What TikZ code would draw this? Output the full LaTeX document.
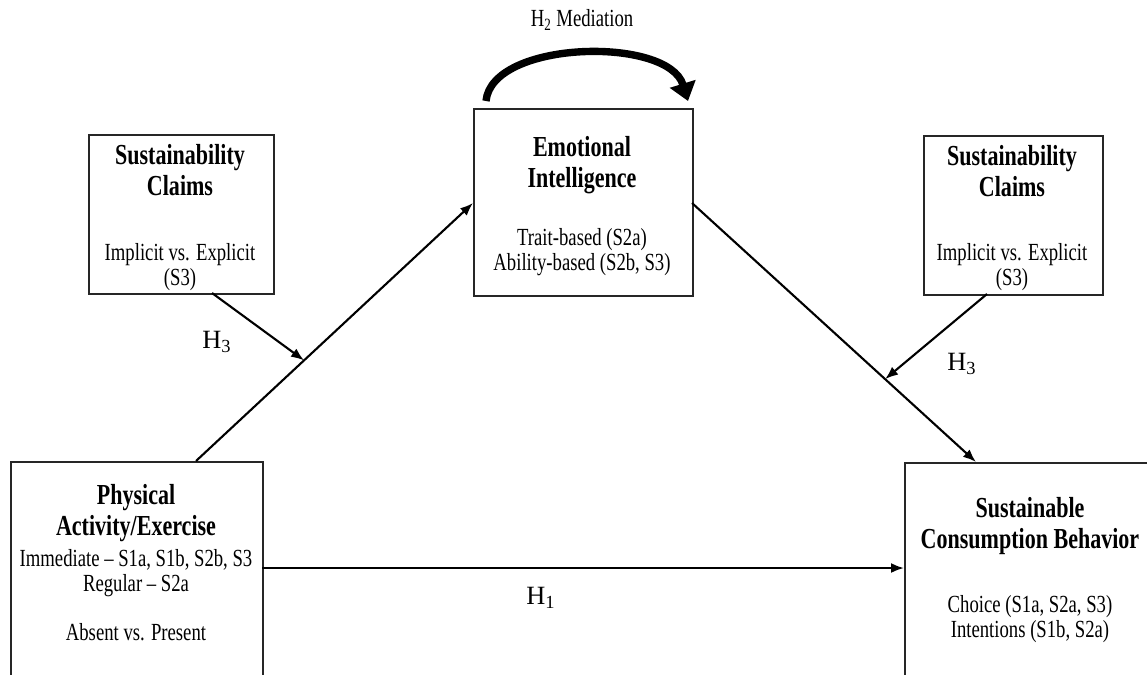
\documentclass[tikz,border=0pt]{standalone}
\usepackage{fontspec}
\setmainfont{Liberation Serif}[FakeStretch=0.76]
\newfontfamily\hfont{Liberation Serif}
\usetikzlibrary{arrows.meta,calc}

\tikzset{
  box/.style={draw=black!85, line width=1pt, anchor=north west, inner sep=0pt},
  boxtitle/.style={anchor=north, align=center, inner sep=0pt, font=\fontsize{16.5}{17.5}\selectfont\bfseries},
  boxtext/.style={anchor=north, align=center, inner sep=0pt, font=\fontsize{14}{14.5}\selectfont},
  hlabel/.style={font=\hfont\fontsize{15}{17}\selectfont},
  link/.style={line width=1.2pt, -{Latex[length=2.6mm,width=2mm]}},
}

\begin{document}
\begin{tikzpicture}[x=0.02cm,y=-0.02cm]
  \clip (0,0) rectangle (1147,674);
  % boxes
  \node[box, minimum width=5.04cm, minimum height=4.8cm] (pa) at (10,461) {};
  \node[box, minimum width=5.2cm, minimum height=4.8cm] (scb) at (904,462) {};
  \node[box, minimum width=4.38cm, minimum height=3.74cm] (ei) at (473,108) {};
  \node[box, minimum width=3.7cm, minimum height=3.18cm] (scl) at (88,134) {};
  \node[box, minimum width=3.58cm, minimum height=3.18cm] (scr) at (923,135) {};

  % texts in the boxes
  \node[boxtitle] (patitle) at (136,484) {Physical\\Activity/Exercise};
  \node[boxtext] (patext) at (136,549) {Immediate -- S1a, S1b, S2b, S3\\Regular -- S2a\\[13pt]Absent vs. Present};
  \node[boxtitle] (scbtitle) at (1030,497) {Sustainable\\Consumption Behavior};
  \node[boxtext] (scbtext) at (1030,595) {Choice (S1a, S2a, S3)\\Intentions (S1b, S2a)};
  \node[boxtitle] (eititle) at (582,136) {Emotional\\Intelligence};
  \node[boxtext] (eitext) at (582,228) {Trait-based (S2a)\\Ability-based (S2b, S3)};
  \node[boxtitle] (scltitle) at (180,144) {Sustainability\\Claims};
  \node[boxtext] (scltext) at (180,243) {Implicit vs. Explicit\\(S3)};
  \node[boxtitle] (scrtitle) at (1012,145) {Sustainability\\Claims};
  \node[boxtext] (scrtext) at (1012,243) {Implicit vs. Explicit\\(S3)};

  % connectors
  \coordinate (paout) at (196,461);
  \coordinate (eiin) at (473,203);
  \coordinate (eiout) at (692,203);
  \coordinate (scbin) at (976,462);
  \coordinate (h1from) at (262,568);
  \coordinate (h1to) at (904,568);
  \coordinate (sclout) at (212,293);
  \coordinate (scrout) at (987,294);
  \draw[link] (paout) -- (eiin);
  \draw[link] (eiout) -- (scbin);
  \draw[link] (h1from) -- (h1to);
  \draw[link] (sclout) -- ($(paout)!0.39!(eiin)$);
  \draw[link] (scrout) -- ($(eiout)!0.68!(scbin)$);

  % mediation arc
  \coordinate (arcfrom) at (486,101);
  \coordinate (arcto) at (688,101);
  \draw[line width=4.2pt, -{Triangle[length=3.6mm,width=5.2mm]}] (arcfrom) .. controls (492,40) and (668,36) .. (arcto);

  % labels
  \node[font=\fontsize{14}{16}\selectfont] (h2) at (582,20) {H\textsubscript{2} Mediation};
  \node[hlabel] (h3l) at (217,342) {H\textsubscript{3}};
  \node[hlabel] (h3r) at (962,364) {H\textsubscript{3}};
  \node[hlabel] (h1) at (541,598) {H\textsubscript{1}};
\end{tikzpicture}
\end{document}
